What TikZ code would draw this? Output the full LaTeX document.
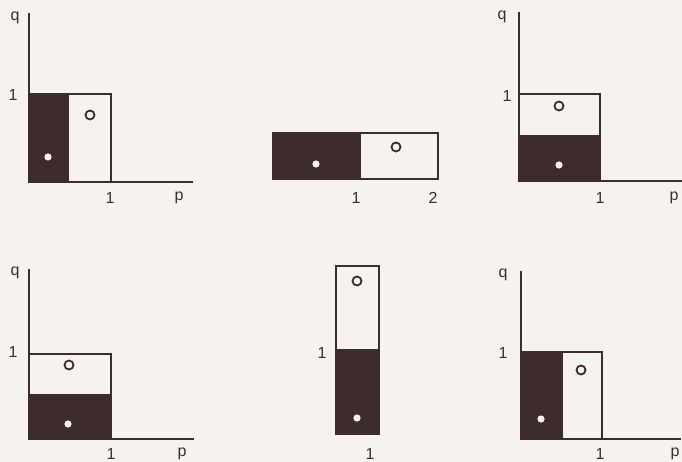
\documentclass[tikz,border=0pt]{standalone}
\usepackage{fontspec}
\setsansfont{Liberation Sans}
\definecolor{ink}{RGB}{62,44,44}
\definecolor{paper}{RGB}{246,243,238}
\tikzset{
  lbl/.style={font=\sffamily\fontsize{16}{18}\selectfont, text=ink, inner sep=0pt},
  axis/.style={draw=ink, line width=1.6pt},
  cell/.style={draw=ink, line width=1.8pt},
  hollow/.style={draw=ink, line width=1.8pt},
}
\begin{document}
\begin{tikzpicture}[x=1pt, y=-1pt]
    \fill[paper] (0,0) rectangle (682,462);
    \useasboundingbox (0,0) rectangle (682,462);

    % Feld oben links
    \draw[axis] (29,13) -- (29,182) -- (193,182);
    \fill[ink] (29,94) rectangle (69,182);
    \draw[cell] (29,94) rectangle (111,182);
    \draw[hollow] (90,115) circle (4.5pt);
    \fill[paper] (48,157) circle (3.6pt);
    \node[lbl] (q1) at (15,18) {q};
    \node[lbl] (ya) at (13,95) {1};
    \node[lbl] (xa) at (110,198) {1};
    \node[lbl] (p1) at (179,198) {p};

    % Feld oben Mitte
    \fill[ink] (273,133) rectangle (361,179);
    \draw[cell] (273,133) rectangle (438,179);
    \draw[hollow] (396,147) circle (4.5pt);
    \fill[paper] (316,164) circle (3.6pt);
    \node[lbl] (xb) at (356,198) {1};
    \node[lbl] (xc) at (433,198) {2};

    % Feld oben rechts
    \draw[axis] (519,12) -- (519,181) -- (682,181);
    \fill[ink] (519,135) rectangle (600,181);
    \draw[cell] (519,94) rectangle (600,181);
    \draw[hollow] (559,106) circle (4.5pt);
    \fill[paper] (559,165) circle (3.6pt);
    \node[lbl] (q3) at (502,17) {q};
    \node[lbl] (yd) at (507,96) {1};
    \node[lbl] (xd) at (600,198) {1};
    \node[lbl] (p3) at (674,198) {p};

    % Feld unten links
    \draw[axis] (29,269) -- (29,439) -- (194,439);
    \fill[ink] (29,394) rectangle (111,439);
    \draw[cell] (29,354) rectangle (111,439);
    \draw[hollow] (69,365) circle (4.5pt);
    \fill[paper] (68,424) circle (3.6pt);
    \node[lbl] (q4) at (15,273) {q};
    \node[lbl] (ye) at (13,352) {1};
    \node[lbl] (xe) at (111,454) {1};
    \node[lbl] (p4) at (182,454) {p};

    % Feld unten Mitte
    \fill[ink] (336,349) rectangle (379,434);
    \draw[cell] (336,266) rectangle (379,434);
    \draw[hollow] (357,281) circle (4.5pt);
    \fill[paper] (357,418) circle (3.6pt);
    \node[lbl] (yf) at (322,353) {1};
    \node[lbl] (xf) at (370,454) {1};

    % Feld unten rechts
    \draw[axis] (521,271) -- (521,439) -- (681,439);
    \fill[ink] (521,352) rectangle (563,439);
    \draw[cell] (521,352) rectangle (602,439);
    \draw[hollow] (581,370) circle (4.5pt);
    \fill[paper] (541,419) circle (3.6pt);
    \node[lbl] (q6) at (503,275) {q};
    \node[lbl] (yg) at (503,353) {1};
    \node[lbl] (xg) at (600,454) {1};
    \node[lbl] (p6) at (675,454) {p};
\end{tikzpicture}
\end{document}
